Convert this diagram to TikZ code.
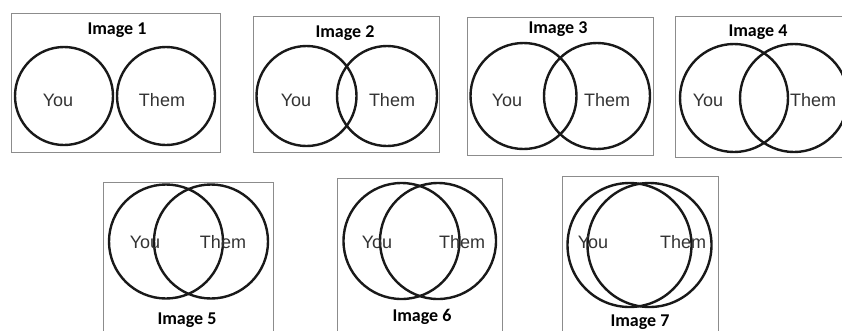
\documentclass[tikz,border=0pt]{standalone}
\usepackage{fontspec}
\newfontfamily\labelfont{Liberation Sans}
\newfontfamily\capfont{Carlito}
\usepackage{tikz}

\tikzset{
  frame/.style={draw=black!45,line width=0.9pt},
  ring/.style={circle,draw=black!90,line width=2.4pt,inner sep=0pt,minimum size=#1},
  who/.style={text=black!80,inner sep=0pt,font=\labelfont\fontsize{18}{18}\selectfont},
  caption/.style={inner sep=0pt,font=\capfont\bfseries\fontsize{18}{18}\selectfont}
}

\begin{document}
\begin{tikzpicture}[x=1pt,y=-1pt]
  \useasboundingbox (0,0) rectangle (842,330);
  \clip (0,0) rectangle (842,330);
  \fill[white] (0,0) rectangle (842,330);
  % top row
  \draw[frame] (11,13) rectangle (220,152);
  \node[caption] (title1) at (117,30) {Image 1};
  \node[ring=98pt] (you1) at (64,96) {};
  \node[ring=98pt] (them1) at (166,96) {};
  \node[who] (y1) at (58,100) {You};
  \node[who] (t1) at (162,100) {Them};

  \draw[frame] (253,16) rectangle (439,152);
  \node[caption] (title2) at (345,33) {Image 2};
  \node[ring=100pt] (you2) at (306.5,96) {};
  \node[ring=100pt] (them2) at (387,96) {};
  \node[who] (y2) at (296,100) {You};
  \node[who] (t2) at (392,100) {Them};

  \draw[frame] (467,17) rectangle (653,155);
  \node[caption] (title3) at (558,29) {Image 3};
  \node[ring=106pt] (you3) at (523.5,96) {};
  \node[ring=106pt] (them3) at (597,96) {};
  \node[who] (y3) at (507,100) {You};
  \node[who] (t3) at (607,100) {Them};

  \draw[frame] (675,16) rectangle (850,157);
  \node[caption] (title4) at (758,32) {Image 4};
  \node[ring=108pt] (you4) at (734,98) {};
  \node[ring=108pt] (them4) at (794,98) {};
  \node[who] (y4) at (708,100) {You};
  \node[who] (t4) at (813,100) {Them};

  % bottom row
  \draw[frame] (103,182) rectangle (273,340);
  \node[ring=114pt] (you5) at (166,241.5) {};
  \node[ring=114pt] (them5) at (211,241.5) {};
  \node[who] (y5) at (145,242) {You};
  \node[who] (t5) at (223,242) {Them};
  \node[caption] (title5) at (187,320) {Image 5};

  \draw[frame] (337,178) rectangle (502,340);
  \node[ring=116pt] (you6) at (401.5,241) {};
  \node[ring=116pt] (them6) at (438,241) {};
  \node[who] (y6) at (377,242) {You};
  \node[who] (t6) at (462,242) {Them};
  \node[caption] (title6) at (422,317) {Image 6};

  \draw[frame] (562,176) rectangle (718,340);
  \node[ring=124pt] (you7) at (629.5,245) {};
  \node[ring=124pt] (them7) at (649.5,245) {};
  \node[who] (y7) at (593,242) {You};
  \node[who] (t7) at (683,242) {Them};
  \node[caption] (title7) at (640,322) {Image 7};
\end{tikzpicture}
\end{document}
